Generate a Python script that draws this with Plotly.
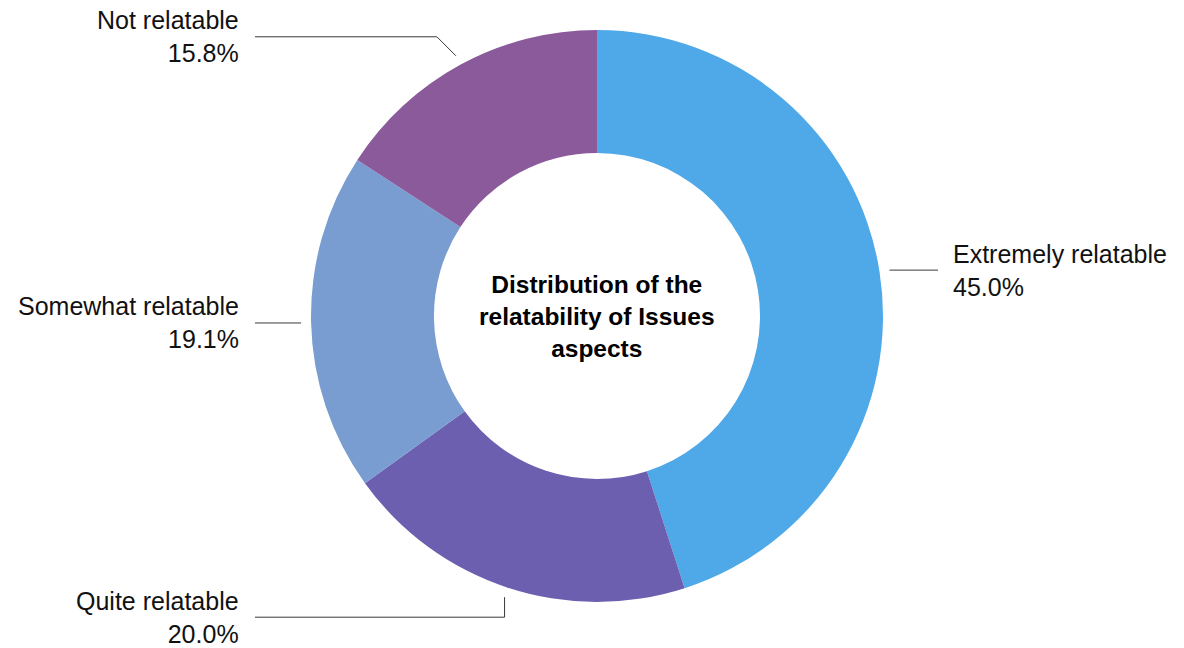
import math
import plotly.graph_objects as go

# ---- data ----
categories = ["Extremely relatable", "Quite relatable", "Somewhat relatable", "Not relatable"]
values = [45.0, 20.0, 19.1, 15.8]
value_labels = ["45.0%", "20.0%", "19.1%", "15.8%"]
center_title = "Distribution of the<br>relatability of Issues<br>aspects"

# ---- styling ----
colors = ["#4FA8E8", "#6C5FB0", "#799DD0", "#8A5A9B"]
W, H = 1184, 648
CX, CY, R = 597, 316, 286
HOLE = 0.57
FONT = "Liberation Sans, Arial, Helvetica, sans-serif"
FS = 25
FS_TITLE = 24.5
elbow = ["none", "vertical", "none", "diagonal"]
label_shift = [0, 20, 0, -19]
left_text_x, left_line_x = 241, 255
right_text_x, right_line_x = 951, 938

fig = go.Figure()
fig.add_trace(go.Pie(
    labels=categories, values=values, sort=False, direction="clockwise",
    rotation=0, hole=HOLE, textinfo="none", hoverinfo="label+percent",
    marker=dict(colors=colors, line=dict(width=0)),
    domain=dict(x=[(CX - R) / W, (CX + R) / W],
                y=[(H - CY - R) / H, (H - CY + R) / H]),
    showlegend=False,
))

total = sum(values)
cum = 0.0
annotations = []
for i, (cat, v) in enumerate(zip(categories, values)):
    mid = (cum + v / 2) / total * 2 * math.pi
    cum += v
    r0 = R + 10
    px = CX + r0 * math.sin(mid)
    py = CY - r0 * math.cos(mid)
    ly = py + label_shift[i]
    right = math.sin(mid) > 0
    xs, ys = [px], [py]
    if elbow[i] == "vertical":
        xs.append(px); ys.append(ly)
    elif elbow[i] == "diagonal":
        d = abs(ly - py)
        xs.append(px + (d if right else -d)); ys.append(ly)
    else:
        ys[0] = ly
    xs.append(right_line_x if right else left_line_x); ys.append(ly)
    fig.add_trace(go.Scatter(x=xs, y=ys, mode="lines", line=dict(color="#3a3a3a", width=1),
                             hoverinfo="skip", showlegend=False))
    annotations.append(dict(
        x=right_text_x if right else left_text_x, y=ly, xref="x", yref="y",
        text=f"{cat}<br>{value_labels[i]}", showarrow=False,
        xanchor="left" if right else "right", yanchor="middle",
        align="left" if right else "right",
        font=dict(family=FONT, size=FS, color="#111111"),
    ))

annotations.append(dict(
    x=CX, y=CY, xref="x", yref="y", text=f"<b>{center_title}</b>", showarrow=False,
    xanchor="center", yanchor="middle", align="center",
    font=dict(family=FONT, size=FS_TITLE, color="#000000"),
))

fig.update_layout(
    width=W, height=H, margin=dict(l=0, r=0, t=0, b=0),
    paper_bgcolor="white", plot_bgcolor="rgba(0,0,0,0)",
    xaxis=dict(range=[0, W], visible=False, fixedrange=True),
    yaxis=dict(range=[H, 0], visible=False, fixedrange=True),
    annotations=annotations,
)
fig.write_html(
    "out.html",
    config={"displayModeBar": False},
    post_script="document.body.style.margin='0';document.body.style.overflow='hidden';",
)
